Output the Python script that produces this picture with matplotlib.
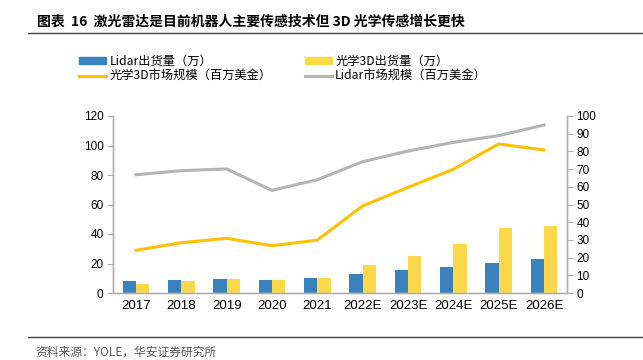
import matplotlib.pyplot as plt
import numpy as np
from matplotlib.lines import Line2D
from matplotlib.patches import Patch

plt.rcParams["font.family"] = ["Noto Sans CJK SC", "DejaVu Sans"]

years = ["2017", "2018", "2019", "2020", "2021", "2022E", "2023E", "2024E", "2025E", "2026E"]
lidar_shipments = [7.9, 8.8, 9.7, 8.8, 10.4, 13.1, 15.4, 17.9, 20.1, 22.8]
optical3d_shipments = [6.3, 8.1, 9.7, 8.8, 10.2, 19.0, 25.3, 33.2, 44.1, 45.4]
optical3d_market = [24.1, 28.4, 30.9, 26.7, 29.9, 49.2, 59.7, 69.9, 84.2, 80.8]
lidar_market = [66.8, 69.1, 70.1, 58.0, 64.0, 74.2, 80.2, 85.1, 88.9, 94.9]

BLUE = "#3a82be"
YELLOW_BAR = "#fdd84a"
YELLOW_LINE = "#ffc000"
GRAY_LINE = "#b4b4b4"
SPINE = "#b0b0b0"
TICK_FONT = "Liberation Sans"

fig = plt.figure(figsize=(6.43, 3.6), dpi=100)
ax = fig.add_axes([113.3 / 643, 1 - 293 / 360, (566.7 - 113.3) / 643, (293 - 116) / 360])
ax2 = ax.twinx()

x = np.arange(len(years))
width = 0.295
ax.bar(x - width / 2, lidar_shipments, width, color=BLUE, zorder=2)
ax.bar(x + width / 2, optical3d_shipments, width, color=YELLOW_BAR, zorder=2)
ax2.plot(x, optical3d_market, color=YELLOW_LINE, lw=2.2)
ax2.plot(x, lidar_market, color=GRAY_LINE, lw=2.2)

ax.set_xlim(-0.5, len(years) - 0.5)
ax.set_ylim(0, 120)
ax.set_yticks(range(0, 121, 20))
ax2.set_ylim(0, 100)
ax2.set_yticks(range(0, 101, 10))
ax.set_xticks(x)
ax.set_xticklabels(years)

for a in (ax, ax2):
    a.spines["top"].set_visible(False)
    for side in ("left", "right", "bottom"):
        a.spines[side].set_color(SPINE)
        a.spines[side].set_linewidth(1.0)
    a.tick_params(axis="y", length=4, color=SPINE, labelsize=8.5, pad=3)
    for lab in a.get_yticklabels():
        lab.set_fontfamily(TICK_FONT)
ax.tick_params(axis="x", length=0, labelsize=9.5, pad=5)
for lab in ax.get_xticklabels():
    lab.set_fontfamily(TICK_FONT)

handles = [
    Patch(color=BLUE),
    Line2D([], [], color=YELLOW_LINE, lw=2.2),
    Patch(color=YELLOW_BAR),
    Line2D([], [], color=GRAY_LINE, lw=2.2),
]
labels = ["Lidar出货量（万）", "光学3D市场规模（百万美金）", "光学3D出货量（万）", "Lidar市场规模（百万美金）"]
fig.legend(handles, labels, ncol=2, loc="upper left", bbox_to_anchor=(79 / 643, 1 - 55 / 360),
           frameon=False, fontsize=8.8, handlelength=2.2, handleheight=0.45, handletextpad=0.3,
           columnspacing=2.7, labelspacing=0.12, borderaxespad=0, borderpad=0)

fig.text(37 / 643, 1 - 22 / 360, "图表  16  激光雷达是目前机器人主要传感技术但 3D 光学传感增长更快",
         fontsize=10, fontweight="bold", va="center", ha="left")
fig.add_artist(Line2D([28 / 643, 1], [1 - 33 / 360] * 2, color="#404040", lw=1.0))
fig.add_artist(Line2D([28 / 643, 1], [1 - 337 / 360] * 2, color="#404040", lw=1.0))
fig.text(35 / 643, 1 - 352 / 360, "资料来源：YOLE，华安证券研究所", fontsize=8.5,
         color="#555555", va="center", ha="left")

fig.savefig("out.png", dpi=100)
